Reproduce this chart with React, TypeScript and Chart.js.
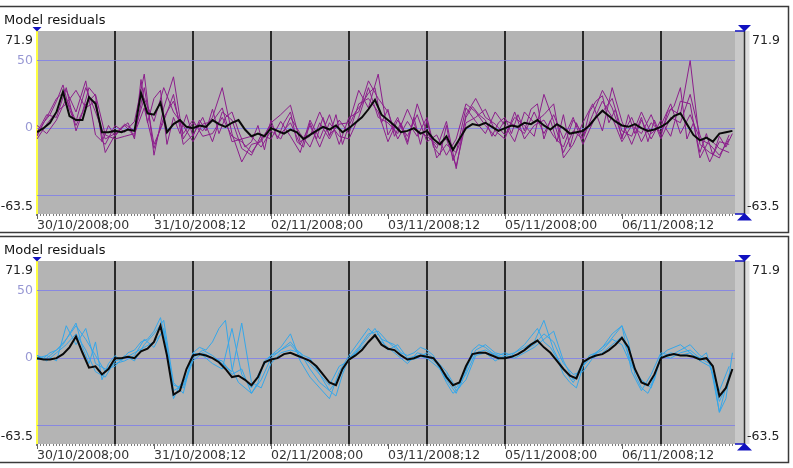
import React, { useEffect, useRef } from 'react';
import { Chart, registerables } from 'chart.js';

Chart.register(...registerables);

// ---------- axis / label data ----------
const TITLE = 'Model residuals';
const Y_MIN = -63.5;
const Y_MAX = 71.9;
const Y_GRID = [-50, 0, 50];
const X_MAX_HOURS = 214.8;
const X_LABEL_HOURS = [0, 36, 72, 108, 144, 180];
const X_LABELS = ['30/10/2008;00', '31/10/2008;12', '02/11/2008;00', '03/11/2008;12', '05/11/2008;00', '06/11/2008;12'];
const MEAN_STEP_HOURS = 2;
const RUN_STEP_HOURS = 3;
const FINE_RUN_STEP_HOURS = 2;

// ---------- top panel (purple runs + black mean) ----------
const TOP_MEAN = [
  -3, 0, 4, 12, 27, 9, 6, 6, 23, 18,
  -3, -3, -2, -3, -1, -2, 26, 11, 10, 19,
  -3, 3, 6, 1, 0, 2, 1, 6, 3, 1,
  4, 6, -1, -6, -4, -6, 0, -2, -4, -1,
  -3, -8, -5, -2, 1, -1, 2, -3, 0, 4,
  8, 14, 21, 10, 6, 2, -3, -2, 0, -4,
  -2, -8, -12, -6, -16, -8, 0, 3, 2, 4,
  1, -2, 0, 2, 1, 4, 3, 6, 2, -1,
  3, 0, -4, -3, -2, 2, 8, 13, 9, 5,
  2, 1, 3, 0, -2, -1, 1, 4, 9, 11,
  3, -5, -9, -7, -10, -4, -3, -2,
];
const TOP_RUN_1 = [
  -5, 8, 22, 28, 12, 35, -5, -12, 2, -3, 5, 40, -20, 15, 38, -8, 4, -2, 8, 30,
  -4, -25, -12, -10, 4, 10, 17, -10, -6, 12, -5, 3, 4, 28, 15, 40, -5, 8, -12, 18,
  -3, -15, 5, -30, 10, 22, 8, 3, -5, 8, 2, -6, 25, 5, -18, -2, -8, 10, 28, 15,
  -6, 8, -10, 4, -3, 14, 10, 50, -12, -18, -22, -5,
];
const TOP_RUN_2 = [
  -8, 3, 12, 18, 28, 15, 20, -18, -5, 2, -6, 30, -12, 5, 25, -12, -5, 8, -10, 12,
  6, -15, -20, -5, -8, 5, -6, -18, 6, -8, 10, -12, 8, 12, 35, 22, 12, -8, 5, -6,
  8, -22, -12, -18, 15, 5, -4, 12, 2, -10, 12, 4, 10, 18, -22, -12, 4, 18, -2, 30,
  5, -12, 6, -8, 6, -6, 20, 18, -22, -8, -15, -18,
];
const TOP_RUN_3 = [
  2, -4, 6, 22, 5, 30, 12, -8, -4, 3, -2, 22, 5, 30, 12, 2, -10, 3, 5, 15,
  -10, -8, -6, -14, -2, -8, 8, -4, -14, 4, -8, 6, -4, 18, 22, 12, -10, 6, -6, 10,
  -10, -5, -20, -8, 18, 12, 2, -6, 6, 2, -4, 12, -4, 10, -8, 8, -12, 4, 20, 8,
  -10, 2, -4, 10, -8, 8, 4, 25, -5, -25, -10, -12,
];
const TOP_RUN_4 = [
  -3, 10, 8, 30, -2, 18, 25, -5, -8, -6, -4, 15, -15, 8, 20, -4, 6, -6, -4, 8,
  -6, -10, -18, -8, 2, -4, 4, -12, 2, -14, 4, -6, -8, 8, 30, 8, 4, -4, 14, -2,
  -6, -12, -8, -28, 4, 8, 14, -2, -8, 12, -8, 2, 6, -6, -14, 6, -4, 6, 12, 22,
  -2, -6, 12, -4, 2, 18, -4, 10, -8, -12, -20, -8,
];
const TOP_RUN_5 = [
  -6, 4, 10, 20, 32, 14, 2, 12, 30, 24,
  -10, 2, -6, 0, 4, -8, 36, 4, 22, 28,
  -12, 8, -4, 10, -6, 6, -2, 14, -4, 8,
  12, -2, -14, -10, 2, -16, 6, -8, 4, 12,
  -10, -14, 4, -8, 8, -6, 10, -12, 2, 12,
  18, 26, 30, 4, 14, -6, 4, -10, 8, -12,
  6, -14, -20, 2, -24, -12, 8, 16, 10, 6,
  -6, 4, 8, -4, 10, -2, 14, 18, -8, 6,
  -10, 10, -14, 4, -8, 12, 20, 24, 4, 14,
  -8, 10, -4, 8, -10, 6, -6, 12, 16, 30,
  -8, 4, -18, -4, -20, -6, -14, -4,
];

// ---------- bottom panel (blue runs + black mean) ----------
const BOT_MEAN = [
  0, -1, -1, 0, 3, 8, 16, 4, -7, -6,
  -12, -8, 0, 0, 1, 0, 5, 7, 12, 24,
  2, -27, -24, -8, 2, 3, 2, 0, -3, -8,
  -14, -13, -16, -20, -14, -3, -1, 0, 3, 4,
  2, 0, -2, -6, -12, -18, -20, -8, -1, 2,
  6, 12, 17, 10, 7, 6, 2, -1, 0, 2,
  1, 0, -6, -14, -20, -18, -6, 3, 4, 4,
  2, 0, 0, 1, 3, 6, 10, 13, 8, 4,
  -2, -8, -13, -15, -3, 0, 2, 3, 6, 10,
  15, 8, -8, -18, -20, -12, 0, 2, 3, 2,
  2, 1, -1, 0, -6, -28, -22, -8,
];
const BOT_RUN_1 = [
  0, 2, -2, 24, 10, 22, -4, -8, -6, 2, -2, 10, 18, 28, -18, -26, 4, 2, -4, -8,
  22, -12, -22, -8, 2, 8, 18, -2, -14, -22, -30, -10, 2, 12, 22, 14, 8, 2, -4, 4,
  2, -4, -16, -26, -8, 6, 10, 4, 2, 4, 8, 12, 28, 6, -8, -18, -6, 2, 8, 18,
  24, -10, -24, -12, 4, 2, 6, 10, 2, -2, -40, -12,
];
const BOT_RUN_2 = [
  2, -2, 4, 10, 18, 6, -10, -14, -2, 0, 4, 8, 12, 20, -24, -20, 0, 6, 2, -4,
  -10, 26, -18, -22, -4, 4, 6, 4, -8, -18, -24, -14, 0, 8, 18, 20, 12, 6, -2, 0,
  4, -2, -10, -22, -12, 4, 6, 2, 0, 2, 6, 10, 18, 12, -4, -12, -10, 0, 4, 10,
  16, -4, -18, -20, 2, 0, 4, 6, 0, -4, -32, -16,
];
const BOT_RUN_3 = [
  -1, 0, 6, 14, 24, 14, 2, -10, -4, -2, 2, 14, 8, 22, -20, -22, -2, 4, 0, -2,
  -12, -8, -26, -16, 0, 6, 10, 2, -4, -12, -20, -6, -2, 6, 12, 18, 6, 10, 0, 2,
  0, -6, -12, -24, -16, 2, 4, -2, 2, 0, 4, 8, 14, 20, -2, -16, -4, 2, 6, 14,
  10, -6, -16, -22, 0, 4, 2, 4, -2, -6, -24, -6,
];
const BOT_RUN_4 = [
  2, 0, 4, 6, 10, 18, 26, 8, -4, 12,
  -16, -4, 2, -2, 4, 6, 12, 14, 20, 30,
  8, -30, -20, -14, 4, 8, 6, 12, 22, 28,
  -8, -18, -22, -26, -18, -2, 2, 4, 8, 12,
  6, 2, 0, -8, -16, -24, -28, -12, 0, 4,
  10, 16, 22, 14, 12, 10, 4, 2, 4, 8,
  6, 2, -8, -18, -26, -22, -10, 6, 10, 8,
  4, 2, 4, 2, 6, 10, 16, 22, 12, 8,
  0, -12, -18, -22, -6, 2, 4, 8, 12, 18,
  24, 12, -12, -22, -26, -16, 2, 6, 8, 10,
  6, 2, 0, 4, -12, -40, -30, 4,
];

const TOP_RUN_COLOR = '#8c1e8c';
const BOT_RUN_COLOR = '#35a7ea';

const FONT = '"DejaVu Sans", "Liberation Sans", sans-serif';

function toPoints(values: number[], step: number) {
  return values.map((v, i) => ({ x: i * step, y: v }));
}

const panelPlugin = {
  id: 'panelDecor',
  beforeDraw(chart: any) {
    const { ctx, chartArea: a } = chart;
    ctx.save();
    ctx.fillStyle = '#b4b4b4';
    ctx.fillRect(a.left, a.top, a.right - a.left, a.bottom - a.top);
    ctx.fillStyle = '#c9c9c9';
    ctx.fillRect(a.right, a.top, 9.5, a.bottom - a.top);
    ctx.fillStyle = '#dedede';
    ctx.fillRect(a.right + 9.5, a.top, 5, a.bottom - a.top);
    ctx.restore();
  },
  afterDraw(chart: any) {
    const { ctx, chartArea: a } = chart;
    const xs = chart.scales.x;
    ctx.save();
    ctx.strokeStyle = '#3a3a3a';
    ctx.lineWidth = 1.5;
    ctx.strokeRect(-2, 6.5, 790.5, 226);
    ctx.fillStyle = '#111';
    ctx.font = '13px ' + FONT;
    ctx.textAlign = 'left';
    ctx.textBaseline = 'alphabetic';
    ctx.fillText(TITLE, 4, 24);
    ctx.font = '12.5px ' + FONT;
    ctx.fillStyle = '#222';
    ctx.textBaseline = 'middle';
    ctx.textAlign = 'right';
    ctx.fillText(String(Y_MAX), a.left - 4, a.top + 10);
    ctx.fillText(String(Y_MIN), a.left - 4, a.bottom - 7);
    ctx.textAlign = 'left';
    ctx.fillText(String(Y_MAX), a.right + 17, a.top + 10);
    ctx.fillText(String(Y_MIN), a.right + 12, a.bottom - 7);
    ctx.strokeStyle = '#333';
    ctx.lineWidth = 1.5;
    ctx.beginPath();
    ctx.moveTo(a.right + 9.5, a.top);
    ctx.lineTo(a.right + 9.5, a.bottom);
    ctx.stroke();
    ctx.strokeStyle = '#1010c0';
    ctx.fillStyle = '#1010c0';
    ctx.lineWidth = 1.5;
    ctx.beginPath();
    ctx.moveTo(a.right, a.top);
    ctx.lineTo(a.right + 9.5, a.top);
    ctx.moveTo(a.right, a.bottom);
    ctx.lineTo(a.right + 9.5, a.bottom);
    ctx.stroke();
    ctx.beginPath();
    ctx.moveTo(a.right + 3, a.top - 6);
    ctx.lineTo(a.right + 16, a.top - 6);
    ctx.lineTo(a.right + 9.5, a.top + 0.5);
    ctx.closePath();
    ctx.fill();
    ctx.beginPath();
    ctx.moveTo(a.right + 2, a.bottom + 6.5);
    ctx.lineTo(a.right + 17, a.bottom + 6.5);
    ctx.lineTo(a.right + 9.5, a.bottom - 1);
    ctx.closePath();
    ctx.fill();
    ctx.beginPath();
    ctx.moveTo(a.left - 4.5, a.top - 4);
    ctx.lineTo(a.left + 4.5, a.top - 4);
    ctx.lineTo(a.left, a.top + 0.5);
    ctx.closePath();
    ctx.fill();
    ctx.strokeStyle = '#666';
    ctx.lineWidth = 1;
    ctx.beginPath();
    X_LABEL_HOURS.forEach((h) => {
      const px = Math.round(xs.getPixelForValue(h)) + 0.5;
      ctx.moveTo(px, a.bottom);
      ctx.lineTo(px, a.bottom + 5);
    });
    ctx.stroke();
    ctx.restore();
  },
};

type Run = { values: number[]; step: number };

function Panel({ top, mean, runs, runColor }: { top: number; mean: number[]; runs: Run[]; runColor: string }) {
  const ref = useRef<HTMLCanvasElement | null>(null);
  useEffect(() => {
    if (!ref.current) return;
    const datasets: any[] = [
      {
        data: toPoints(mean, MEAN_STEP_HOURS),
        borderColor: '#0a0a0a',
        borderWidth: 2,
      },
      ...runs.map((r) => ({
        data: toPoints(r.values, r.step),
        borderColor: runColor,
        borderWidth: 1,
      })),
    ];
    const hours: number[] = [];
    for (let h = 0; h <= Math.floor(X_MAX_HOURS); h++) hours.push(h);
    const chart = new Chart(ref.current, {
      type: 'line',
      data: { datasets },
      options: {
        animation: false,
        responsive: false,
        elements: { point: { radius: 0 }, line: { tension: 0 } },
        plugins: { legend: { display: false }, tooltip: { enabled: false } },
        layout: { padding: { top: 31, right: 58, bottom: 0, left: 0 } },
        scales: {
          x: {
            type: 'linear',
            min: 0,
            max: X_MAX_HOURS,
            border: { display: false },
            afterBuildTicks: (s: any) => {
              s.ticks = hours.map((v) => ({ value: v }));
            },
            afterFit: (s: any) => {
              s.height = 20;
            },
            grid: {
              drawOnChartArea: true,
              tickLength: 2,
              tickColor: '#7a7a7a',
              color: (c: any) => {
                const v = c.tick ? c.tick.value : -1;
                if (v === 0) return '#ffff40';
                if (v % 24 === 0) return '#2a2a2a';
                return 'rgba(0,0,0,0)';
              },
              lineWidth: (c: any) => {
                const v = c.tick ? c.tick.value : -1;
                return v % 24 === 0 ? 2 : 1;
              },
            },
            ticks: {
              autoSkip: false,
              maxRotation: 0,
              minRotation: 0,
              align: 'start',
              padding: 2,
              color: '#333',
              font: { family: FONT, size: 12.5 },
              callback: (v: any) => {
                const i = X_LABEL_HOURS.indexOf(Number(v));
                return i >= 0 ? X_LABELS[i] : '';
              },
            },
          },
          y: {
            min: Y_MIN,
            max: Y_MAX,
            border: { display: false },
            afterBuildTicks: (s: any) => {
              s.ticks = Y_GRID.map((v) => ({ value: v }));
            },
            afterFit: (s: any) => {
              s.width = 37;
            },
            grid: { color: 'rgba(125,125,235,0.8)', lineWidth: 1, drawTicks: false },
            ticks: {
              padding: 4,
              color: '#9898d4',
              font: { family: FONT, size: 12.5 },
              callback: (v: any) => (Number(v) === -50 ? '' : String(v)),
            },
          },
        },
      } as any,
      plugins: [panelPlugin],
    });
    return () => chart.destroy();
  }, []);
  return (
    <canvas
      ref={ref}
      width={793}
      height={234}
      style={{ position: 'absolute', left: 0, top, width: 793, height: 234 }}
    />
  );
}

const TOP_RUNS: Run[] = [
  { values: TOP_RUN_1, step: RUN_STEP_HOURS },
  { values: TOP_RUN_2, step: RUN_STEP_HOURS },
  { values: TOP_RUN_3, step: RUN_STEP_HOURS },
  { values: TOP_RUN_4, step: RUN_STEP_HOURS },
  { values: TOP_RUN_5, step: FINE_RUN_STEP_HOURS },
];
const BOT_RUNS: Run[] = [
  { values: BOT_RUN_1, step: RUN_STEP_HOURS },
  { values: BOT_RUN_2, step: RUN_STEP_HOURS },
  { values: BOT_RUN_3, step: RUN_STEP_HOURS },
  { values: BOT_RUN_4, step: FINE_RUN_STEP_HOURS },
];

export default function App() {
  return (
    <div style={{ position: 'absolute', left: 0, top: 0, width: 793, height: 468, background: '#fff', overflow: 'hidden' }}>
      <Panel top={0} mean={TOP_MEAN} runs={TOP_RUNS} runColor={TOP_RUN_COLOR} />
      <Panel top={230} mean={BOT_MEAN} runs={BOT_RUNS} runColor={BOT_RUN_COLOR} />
    </div>
  );
}
